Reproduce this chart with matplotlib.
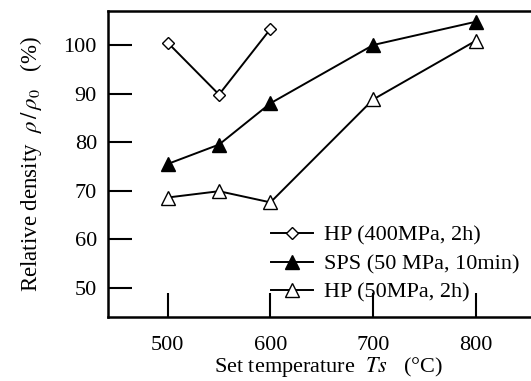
import matplotlib.pyplot as plt

plt.rcParams['font.family'] = ['Liberation Serif', 'DejaVu Serif']
plt.rcParams['mathtext.fontset'] = 'stix'

temp_hp400 = [500, 550, 600]
dens_hp400 = [100.5, 89.8, 103.3]

temp_sps = [500, 550, 600, 700, 800]
dens_sps = [75.5, 79.5, 88.0, 100.0, 104.8]

temp_hp50 = [500, 550, 600, 700, 800]
dens_hp50 = [68.6, 69.9, 67.6, 88.8, 100.9]

xticks = [500, 600, 700, 800]
yticks = [50, 60, 70, 80, 90, 100]

fig = plt.figure(figsize=(5.31, 3.81), dpi=100)
ax = fig.add_axes([108 / 531, 1 - 317 / 381, 440 / 531, 306 / 381])

ax.plot(temp_hp400, dens_hp400, color='black', lw=1.4, marker='D', ms=6,
        mfc='white', mec='black', mew=1.0, label='HP (400MPa, 2h)')
ax.plot(temp_sps, dens_sps, color='black', lw=1.4, marker='^', ms=9.5,
        mfc='black', mec='black', label='SPS (50 MPa, 10min)')
ax.plot(temp_hp50, dens_hp50, color='black', lw=1.4, marker='^', ms=9.5,
        mfc='white', mec='black', mew=1.0, label='HP (50MPa, 2h)')

ax.set_xlim(442, 870)
ax.set_ylim(44, 107)
ax.set_xticks(xticks)
ax.set_yticks(yticks)
ax.tick_params(axis='x', direction='in', length=17, width=1.5, labelsize=16, pad=14)
ax.tick_params(axis='y', direction='in', length=17, width=1.5, labelsize=16, pad=8)
for s in ax.spines.values():
    s.set_linewidth(1.8)

ax.set_xlabel(r'Set temperature  $\mathit{Ts}$   (°C)', fontsize=16, labelpad=0)
ax.set_ylabel(r'Relative density  $\rho\,/\,\rho_0$   (%)', fontsize=16.5, labelpad=14)

ax.legend(loc='upper left', bbox_to_anchor=(0.37, 0.30), frameon=False,
          fontsize=16, handlelength=1.9, handletextpad=0.5, labelspacing=0.36,
          borderaxespad=0, borderpad=0)

fig.savefig('out.png', dpi=100)
